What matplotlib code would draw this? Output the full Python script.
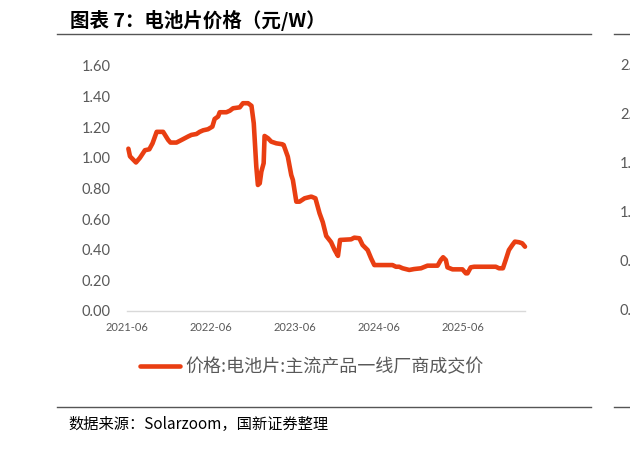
import matplotlib
matplotlib.use("Agg")
import matplotlib.pyplot as plt
import matplotlib.dates as mdates
from matplotlib.lines import Line2D
import pandas as pd

plt.rcParams['font.family'] = ['Noto Sans CJK SC', 'DejaVu Sans']

dates = ["2021-06-07", "2021-06-14", "2021-07-10", "2021-07-27", "2021-08-18", "2021-09-06",
         "2021-09-20", "2021-10-08", "2021-11-05", "2021-11-27", "2021-12-07", "2022-01-02",
         "2022-01-24", "2022-02-22", "2022-03-08", "2022-03-30", "2022-04-13", "2022-04-28",
         "2022-05-19", "2022-06-07", "2022-06-17", "2022-07-02", "2022-07-09", "2022-08-07",
         "2022-08-22", "2022-09-05", "2022-10-04", "2022-10-18", "2022-11-09", "2022-11-24",
         "2022-12-04", "2022-12-15", "2022-12-22", "2022-12-30", "2023-01-06", "2023-01-16",
         "2023-01-20", "2023-02-04", "2023-02-18", "2023-03-12", "2023-04-07", "2023-04-13",
         "2023-05-01", "2023-05-16", "2023-05-23", "2023-06-07", "2023-06-21", "2023-07-13",
         "2023-08-11", "2023-08-29", "2023-09-16", "2023-09-30", "2023-10-15", "2023-11-05",
         "2023-11-20", "2023-12-05", "2023-12-14", "2024-01-31", "2024-02-14", "2024-03-07",
         "2024-03-21", "2024-04-12", "2024-04-27", "2024-05-11", "2024-07-29", "2024-08-13",
         "2024-08-27", "2024-09-11", "2024-10-10", "2024-10-31", "2024-11-30", "2024-12-28",
         "2025-02-10", "2025-02-24", "2025-03-06", "2025-03-18", "2025-03-25", "2025-04-16",
         "2025-05-29", "2025-06-13", "2025-06-20", "2025-07-04", "2025-07-19", "2025-10-21",
         "2025-11-04", "2025-11-21", "2025-12-03", "2025-12-17", "2026-01-01", "2026-01-12",
         "2026-01-30", "2026-02-13", "2026-02-25"]
prices = [1.06, 1.01, 0.97, 1.00, 1.05, 1.056,
          1.095, 1.17, 1.17, 1.117, 1.10, 1.10,
          1.117, 1.14, 1.15, 1.156, 1.17, 1.18,
          1.187, 1.204, 1.254, 1.27, 1.298, 1.298,
          1.308, 1.324, 1.33, 1.357, 1.357, 1.34,
          1.226, 0.943, 0.823, 0.834, 0.91, 0.965,
          1.143, 1.128, 1.106, 1.095, 1.089, 1.084,
          1.008, 0.888, 0.856, 0.714, 0.714, 0.736,
          0.747, 0.736, 0.638, 0.58, 0.49, 0.45,
          0.40, 0.36, 0.464, 0.468, 0.479, 0.475,
          0.431, 0.398, 0.344, 0.30, 0.30, 0.289,
          0.289, 0.279, 0.268, 0.274, 0.279, 0.296,
          0.296, 0.333, 0.351, 0.333, 0.285, 0.272,
          0.272, 0.246, 0.246, 0.285, 0.289, 0.289,
          0.279, 0.279, 0.333, 0.398, 0.431, 0.453,
          0.449, 0.442, 0.42]

y_ticks = [0.0, 0.2, 0.4, 0.6, 0.8, 1.0, 1.2, 1.4, 1.6]
x_ticks = ["2021-06-01", "2022-06-01", "2023-06-01", "2024-06-01", "2025-06-01"]
series_name = "价格:电池片:主流产品一线厂商成交价"
title = "图表 7：电池片价格（元/W）"
source = "数据来源：Solarzoom，国新证券整理"
right_labels = ["2.", "2.", "1.", "1.", "0.", "0."]

W, H = 630, 461
fig = plt.figure(figsize=(W / 100, H / 100), dpi=100)
ax = fig.add_axes([127 / W, 1 - 311 / H, (525 - 127) / W, (311 - 66) / H])

x = pd.to_datetime(dates)
ln, = ax.plot(x, prices, color='#E93E12', lw=3.3, solid_capstyle='round',
              solid_joinstyle='round', clip_on=False, label=series_name)

ax.set_ylim(0, 1.6)
ax.set_xlim(pd.Timestamp("2021-06-01"), pd.Timestamp("2026-02-25"))
ax.set_yticks(y_ticks)
ax.set_yticklabels([f"{v:.2f}" for v in y_ticks], fontsize=10.5, color='#595959', family='Lato')
ax.set_xticks(pd.to_datetime(x_ticks))
ax.xaxis.set_major_formatter(mdates.DateFormatter('%Y-%m'))
for lab in ax.get_xticklabels():
    lab.set_fontsize(8)
    lab.set_color('#595959')
    lab.set_family('Lato')
ax.tick_params(axis='y', length=0, pad=12)
ax.tick_params(axis='x', length=0, pad=8)
for s in ['top', 'right', 'left']:
    ax.spines[s].set_visible(False)
ax.spines['bottom'].set_color('#D9D9D9')
ax.spines['bottom'].set_linewidth(1)

leg = fig.legend(handles=[ln], labels=[series_name], loc='center',
                 bbox_to_anchor=(312 / W, 1 - 367 / H), frameon=False,
                 fontsize=13, handlelength=2.2, handletextpad=0.28)
for t in leg.get_texts():
    t.set_color('#595959')

fig.text(70 / W, 1 - 20 / H, title, fontsize=14, fontweight='bold', style='italic',
         va='center', ha='left', color='#000000')
fig.text(68 / W, 1 - 424 / H, source, fontsize=11, va='center', ha='left', color='#000000')

for yy in [34, 407]:
    fig.add_artist(Line2D([57 / W, 591 / W], [1 - yy / H] * 2, color='#555555', lw=1))
    fig.add_artist(Line2D([614 / W, 1.0], [1 - yy / H] * 2, color='#555555', lw=1))

for i, lab in enumerate(right_labels):
    yy = 66 + i * 49
    fig.text(620 / W, 1 - yy / H, lab, fontsize=10.5, color='#595959', va='center',
             ha='left', family='Lato')

fig.savefig("out.png", dpi=100)
